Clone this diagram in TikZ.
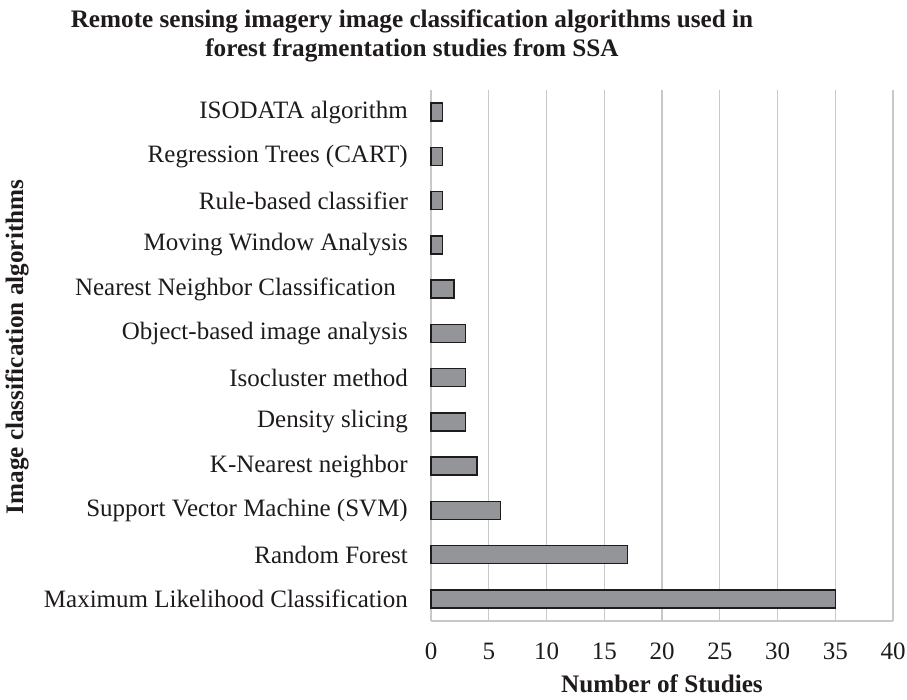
\documentclass[tikz,border=0pt]{standalone}
\usepackage{fontspec}
\setmainfont{Liberation Serif}
\begin{document}
\begin{tikzpicture}[x=1pt,y=-1pt,
  grid/.style={draw=gridgray,line width=1.4pt},
  barbox/.style={draw=textdark,fill=barfill,line width=1.5pt},
  catlabel/.style={anchor=east,font=\fontsize{25}{28}\selectfont,text=textdark,inner sep=0pt},
  ticklabel/.style={anchor=center,font=\fontsize{25}{28}\selectfont,text=textdark,inner sep=0pt},
  axtitle/.style={font=\bfseries\fontsize{25.2}{28.5}\selectfont,text=textdark,inner sep=0pt},
]
\definecolor{gridgray}{HTML}{C8C8C8}
\definecolor{barfill}{HTML}{939598}
\definecolor{textdark}{HTML}{1F1B1C}
\useasboundingbox (0,0) rectangle (907,699);
% title
\node[axtitle,align=center,anchor=north] (title) at (412,10) {Remote sensing imagery image classification algorithms used in\\forest fragmentation studies from SSA};
% grid (x: 0 -> 431, 5 units -> 57.75)
\foreach \v [count=\i from 0] in {0,5,...,40} {
  \pgfmathsetmacro{\xx}{431+11.55*\v}
  \draw[grid] (\xx,90) -- (\xx,621);
  \node[ticklabel] (t\i) at (\xx,651) {\v};
}
\draw[grid] (431,621) -- (893,621);
% bars
\foreach \lab/\val [count=\i from 0] in {
  ISODATA algorithm/1,
  Regression Trees (CART)/1,
  Rule-based classifier/1,
  Moving Window Analysis/1,
  Nearest Neighbor Classification\kern12pt/2,
  Object-based image analysis/3,
  Isocluster method/3,
  Density slicing/3,
  K-Nearest neighbor/4,
  Support Vector Machine (SVM)/6,
  Random Forest/17,
  Maximum Likelihood Classification/35} {
  \pgfmathsetmacro{\yc}{90+44.25*(\i+0.5)}
  \pgfmathsetmacro{\xe}{431+11.55*\val}
  \draw[barbox] (431,\yc-9) rectangle (\xe,\yc+9);
  \node[catlabel] (c\i) at (408,\yc) {\lab};
}
% axis titles
\node[axtitle] (xt) at (662,684) {Number of Studies};
\node[axtitle,rotate=90] (yt) at (17,347) {Image classification algorithms};
\end{tikzpicture}
\end{document}
